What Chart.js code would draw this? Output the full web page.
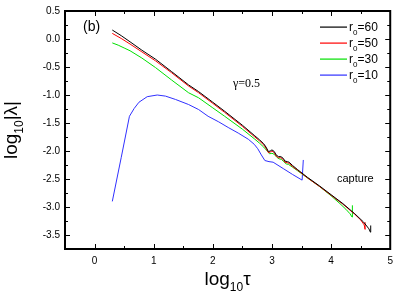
<!DOCTYPE html>
<html>
<head>
<meta charset="utf-8">
<script src="https://cdn.jsdelivr.net/npm/chart.js@4.4.1/dist/chart.umd.min.js"></script>
<style>
  html, body { margin: 0; padding: 0; background: #fff; }
  #wrap { width: 399px; height: 298px; }
</style>
</head>
<body>
<div id="wrap"><canvas id="chart" width="399" height="298"></canvas></div>
<script>
// ticks
const xTicks = [0, 1, 2, 3, 4, 5];
const xMinor = [0.5, 1.5, 2.5, 3.5, 4.5];
const yTicks = [0.5, 0.0, -0.5, -1.0, -1.5, -2.0, -2.5, -3.0, -3.5];
const yMinor = [0.25, -0.25, -0.75, -1.25, -1.75, -2.25, -2.75, -3.25, -3.75];

// r0 = 60 (black)
const tau60 = [0.30, 0.45, 0.60, 0.80, 1.03, 1.30, 1.59, 1.76, 2.00, 2.20, 2.50, 2.70, 2.79, 2.86, 2.90, 2.94, 2.97, 3.00, 3.04, 3.07, 3.11, 3.15, 3.19, 3.22, 3.26, 3.29, 3.35, 3.43, 3.60, 3.80, 4.00, 4.20, 4.40, 4.55, 4.64, 4.665, 4.67];
const lam60 = [0.16, 0.06, -0.05, -0.20, -0.36, -0.58, -0.82, -0.94, -1.13, -1.29, -1.54, -1.72, -1.80, -1.87, -1.93, -2.01, -2.00, -1.98, -2.01, -2.07, -2.10, -2.10, -2.13, -2.18, -2.19, -2.20, -2.26, -2.33, -2.47, -2.62, -2.78, -2.94, -3.12, -3.27, -3.39, -3.45, -3.33];

// r0 = 50 (red)
const tau50 = [0.30, 0.45, 0.60, 0.80, 1.03, 1.30, 1.59, 1.76, 2.00, 2.20, 2.50, 2.70, 2.79, 2.86, 2.90, 2.94, 2.97, 3.00, 3.04, 3.07, 3.11, 3.15, 3.19, 3.22, 3.26, 3.29, 3.35, 3.43, 3.60, 3.80, 4.00, 4.20, 4.40, 4.50, 4.56, 4.575, 4.575];
const lam50 = [0.10, 0.01, -0.09, -0.23, -0.39, -0.60, -0.84, -0.96, -1.15, -1.31, -1.56, -1.74, -1.82, -1.89, -1.95, -2.03, -2.02, -2.00, -2.03, -2.09, -2.12, -2.12, -2.15, -2.20, -2.21, -2.22, -2.28, -2.34, -2.48, -2.63, -2.79, -2.95, -3.13, -3.23, -3.32, -3.40, -3.27];

// r0 = 30 (green)
const tau30 = [0.30, 0.40, 0.50, 0.60, 0.80, 1.03, 1.30, 1.59, 1.76, 2.00, 2.20, 2.50, 2.70, 2.79, 2.86, 2.92, 2.96, 3.00, 3.04, 3.08, 3.12, 3.16, 3.20, 3.24, 3.28, 3.35, 3.43, 3.60, 3.80, 4.00, 4.15, 4.25, 4.32, 4.355, 4.36];
const lam30 = [-0.07, -0.11, -0.16, -0.21, -0.34, -0.51, -0.73, -0.96, -1.05, -1.23, -1.38, -1.61, -1.78, -1.86, -1.93, -2.00, -2.05, -2.04, -2.06, -2.11, -2.14, -2.15, -2.19, -2.23, -2.24, -2.29, -2.35, -2.48, -2.63, -2.80, -2.94, -3.04, -3.12, -3.18, -2.97];

// r0 = 10 (blue)
const tau10 = [0.30, 0.45, 0.59, 0.67, 0.75, 0.89, 1.06, 1.20, 1.37, 1.59, 1.76, 1.92, 2.10, 2.26, 2.43, 2.60, 2.70, 2.76, 2.82, 2.88, 2.95, 3.02, 3.20, 3.35, 3.51, 3.53];
const lam10 = [-2.90, -2.12, -1.38, -1.24, -1.13, -1.03, -1.00, -1.02, -1.08, -1.17, -1.26, -1.38, -1.48, -1.58, -1.68, -1.79, -1.88, -1.96, -2.07, -2.17, -2.19, -2.20, -2.32, -2.42, -2.52, -2.16];

const seriesNames = ["60", "50", "30", "10"];
const seriesColors = ["#000000", "#ff0000", "#00e000", "#3030ff"];
const seriesX = [tau60, tau50, tau30, tau10];
const seriesY = [lam60, lam50, lam30, lam10];

const SANS = "'Liberation Sans', Arial, sans-serif";
const SERIF = "'Liberation Serif', 'Times New Roman', serif";

// draw text pieces with sub/superscript offsets
function drawParts(ctx, parts, x, y, align) {
    let total = 0;
    parts.forEach(p => {
        ctx.font = p.size + "px " + (p.family || SANS);
        p.w = ctx.measureText(p.t).width;
        total += p.w;
    });
    let cx = align === "center" ? x - total / 2 : x;
    ctx.textAlign = "left";
    ctx.textBaseline = "alphabetic";
    parts.forEach(p => {
        ctx.font = p.size + "px " + (p.family || SANS);
        ctx.fillText(p.t, cx, y + (p.dy || 0));
        cx += p.w;
    });
}

const framePlugin = {
    id: "frame",
    afterDraw(chart) {
        const { ctx, chartArea: a, scales: { x, y } } = chart;
        ctx.save();
        ctx.strokeStyle = "#000";
        ctx.fillStyle = "#000";

        // ticks pointing inward on all four sides
        ctx.lineWidth = 1;
        ctx.beginPath();
        const xt = (v, len) => {
            const px = Math.round(x.getPixelForValue(v)) + 0.5;
            ctx.moveTo(px, a.bottom); ctx.lineTo(px, a.bottom - len);
            ctx.moveTo(px, a.top); ctx.lineTo(px, a.top + len);
        };
        const yt = (v, len) => {
            const py = Math.round(y.getPixelForValue(v)) + 0.5;
            ctx.moveTo(a.left, py); ctx.lineTo(a.left + len, py);
            ctx.moveTo(a.right, py); ctx.lineTo(a.right - len, py);
        };
        xTicks.forEach(v => xt(v, 5));
        xMinor.forEach(v => xt(v, 3));
        yTicks.forEach(v => yt(v, 5));
        yMinor.forEach(v => yt(v, 3));
        ctx.stroke();

        ctx.lineWidth = 2;
        ctx.strokeRect(a.left, a.top, a.right - a.left, a.bottom - a.top);

        // axis titles
        drawParts(ctx, [
            { t: "log", size: 19 },
            { t: "10", size: 12, dy: 6 },
            { t: "τ", size: 19 }
        ], (a.left + a.right) / 2, 285, "center");

        ctx.save();
        ctx.translate(17, (a.top + a.bottom) / 2);
        ctx.rotate(-Math.PI / 2);
        drawParts(ctx, [
            { t: "log", size: 19 },
            { t: "10", size: 12, dy: 6 },
            { t: "|λ|", size: 19 }
        ], 0, 0, "center");
        ctx.restore();

        // annotations
        drawParts(ctx, [{ t: "(b)", size: 14 }], 83, 31);
        drawParts(ctx, [{ t: "γ=0.5", size: 12, family: SERIF }], 233, 87);
        drawParts(ctx, [{ t: "capture", size: 11 }], 337, 182);

        // legend (sample line + label with subscript)
        for (let i = 0; i < seriesNames.length; i++) {
            const ly = Math.round(26 + i * 16.1);
            ctx.fillStyle = seriesColors[i];
            ctx.fillRect(320, ly + 0.5, 27, 1.2);
            ctx.fillStyle = "#000";
            drawParts(ctx, [
                { t: "r", size: 12 },
                { t: "0", size: 8, dy: 4 },
                { t: "=" + seriesNames[i], size: 12 }
            ], 349, ly + 5);
        }
        ctx.restore();
    }
};

const datasets = seriesNames.map((name, i) => ({
    label: "r0=" + name,
    data: seriesX[i].map((t, j) => ({ x: t, y: seriesY[i][j] })),
    borderColor: seriesColors[i],
    backgroundColor: seriesColors[i],
    borderWidth: 1,
    pointRadius: 0,
    showLine: true,
    tension: 0
}));

new Chart(document.getElementById("chart").getContext("2d"), {
    type: "scatter",
    data: { datasets: datasets },
    options: {
        responsive: false,
        animation: false,
        layout: { padding: { top: 8, right: 6, left: 0, bottom: 0 } },
        plugins: {
            legend: { display: false },
            tooltip: { enabled: false }
        },
        scales: {
            x: {
                type: "linear",
                min: -0.5,
                max: 5,
                afterBuildTicks: s => { s.ticks = xTicks.map(v => ({ value: v })); },
                afterFit: s => { s.height = 49; },
                grid: { display: false, drawTicks: false },
                border: { display: false },
                ticks: {
                    color: "#000",
                    font: { family: SANS, size: 10 },
                    padding: 6,
                    maxRotation: 0,
                    autoSkip: false,
                    callback: v => String(v)
                }
            },
            y: {
                type: "linear",
                min: -3.75,
                max: 0.5,
                afterBuildTicks: s => { s.ticks = yTicks.map(v => ({ value: v })); },
                afterFit: s => { s.width = 65; },
                grid: { display: false, drawTicks: false },
                border: { display: false },
                ticks: {
                    color: "#000",
                    font: { family: SANS, size: 10 },
                    padding: 5,
                    autoSkip: false,
                    callback: v => Number(v).toFixed(1)
                }
            }
        }
    },
    plugins: [framePlugin]
});
</script>
</body>
</html>
